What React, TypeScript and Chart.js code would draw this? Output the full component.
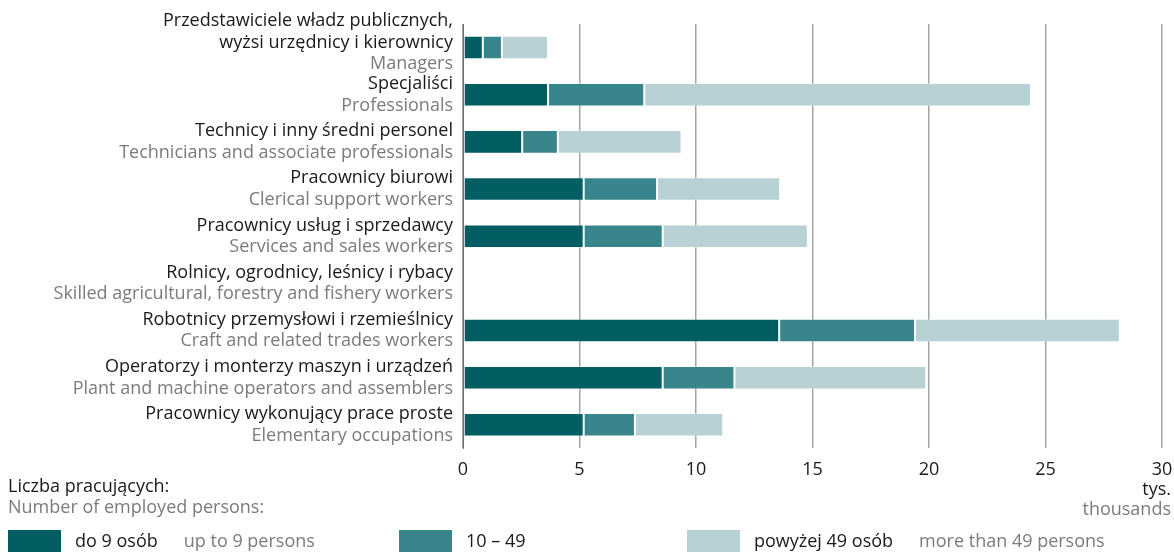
import React, { useEffect, useRef } from "react";
import { Chart, registerables } from "chart.js";

Chart.register(...registerables);

const polishLabels: string[][] = [
  ["Przedstawiciele władz publicznych,", "wyżsi urzędnicy i kierownicy"],
  ["Specjaliści"],
  ["Technicy i inny średni personel"],
  ["Pracownicy biurowi"],
  ["Pracownicy usług i sprzedawcy"],
  ["Rolnicy, ogrodnicy, leśnicy i rybacy"],
  ["Robotnicy przemysłowi i rzemieślnicy"],
  ["Operatorzy i monterzy maszyn i urządzeń"],
  ["Pracownicy wykonujący prace proste"],
];

const englishLabels: string[] = [
  "Managers",
  "Professionals",
  "Technicians and associate professionals",
  "Clerical support workers",
  "Services and sales workers",
  "Skilled agricultural, forestry and fishery workers",
  "Craft and related trades workers",
  "Plant and machine operators and assemblers",
  "Elementary occupations",
];

const upTo9: number[] = [0.85, 3.65, 2.54, 5.18, 5.18, 0, 13.57, 8.57, 5.18];
const from10to49: number[] = [0.82, 4.13, 1.53, 3.15, 3.39, 0, 5.83, 3.08, 2.2];
const over49: number[] = [1.98, 16.6, 5.31, 5.28, 6.23, 0, 8.79, 8.23, 3.79];

const seriesPl: string[] = ["do 9 osób", "10 – 49", "powyżej 49 osób"];
const seriesEn: string[] = ["up to 9 persons", "", "more than 49 persons"];
const seriesColors: string[] = ["#025e63", "#38868b", "#b7d1d5"];

const legendTitlePl = "Liczba pracujących:";
const legendTitleEn = "Number of employed persons:";
const unitPl = "tys.";
const unitEn = "thousands";

const FONT = '"Open Sans", sans-serif';
const FS = 18;
const DARK = "#1a1a1a";
const GREY = "#7b7b7b";

const textPlugin = {
  id: "customText",
  afterDraw(chart: any) {
    const ctx = chart.ctx as CanvasRenderingContext2D;
    const yScale = chart.scales.y;
    const area = chart.chartArea;
    ctx.save();
    ctx.font = `${FS}px ${FONT}`;
    ctx.textBaseline = "middle";
    ctx.textAlign = "right";
    const lh = 21.5;
    const xRight = area.left - 10;
    polishLabels.forEach((pl, i) => {
      const lines = [...pl, englishLabels[i]];
      const cy = yScale.getPixelForValue(i);
      const shift = lines.length > 2 ? -5 : 0;
      const startY = cy - ((lines.length - 1) * lh) / 2 + shift;
      lines.forEach((ln, j) => {
        ctx.fillStyle = j < pl.length ? DARK : GREY;
        ctx.fillText(ln, xRight, startY + j * lh);
      });
    });
    ctx.textAlign = "right";
    ctx.fillStyle = DARK;
    ctx.fillText(unitPl, 1171, 490);
    ctx.fillStyle = GREY;
    ctx.fillText(unitEn, 1171, 510);
    ctx.textAlign = "left";
    ctx.fillStyle = DARK;
    ctx.fillText(legendTitlePl, 8, 487);
    ctx.fillStyle = GREY;
    ctx.fillText(legendTitleEn, 8, 508);
    const itemX = [8, 399, 687];
    seriesPl.forEach((name, k) => {
      const x = itemX[k];
      ctx.fillStyle = seriesColors[k];
      ctx.fillRect(x, 530, 53, 26);
      ctx.fillStyle = DARK;
      ctx.fillText(name, x + 67, 542);
      const w = ctx.measureText(name).width;
      if (seriesEn[k]) {
        ctx.fillStyle = GREY;
        ctx.fillText(seriesEn[k], x + 67 + w + 26, 542);
      }
    });
    ctx.restore();
  },
};

export default function App() {
  const ref = useRef<HTMLCanvasElement | null>(null);
  useEffect(() => {
    document.body.style.margin = "0";
    const canvas = ref.current;
    if (!canvas) return;
    const labels = englishLabels.map((_, i) => String(i));
    const chart = new Chart(canvas, {
      type: "bar",
      data: {
        labels,
        datasets: [upTo9, from10to49, over49].map((d, k) => ({
          label: seriesPl[k],
          data: d,
          backgroundColor: seriesColors[k],
          borderColor: "rgba(255,255,255,0.35)",
          borderWidth: 1,
          borderSkipped: false,
          barPercentage: 0.5,
          categoryPercentage: 1,
        })),
      },
      options: {
        indexAxis: "y",
        responsive: false,
        animation: false,
        layout: { autoPadding: false, padding: { left: 463, right: 12, top: 24, bottom: 60 } },
        plugins: {
          legend: { display: false },
          tooltip: { enabled: false },
        },
        scales: {
          x: {
            stacked: true,
            min: 0,
            max: 30,
            afterFit: (scale: any) => {
              scale.paddingRight = 0;
              scale.paddingLeft = 0;
            },
            ticks: {
              stepSize: 5,
              color: DARK,
              font: { family: FONT, size: FS },
              padding: 11,
            },
            grid: { color: "#a3a3a3", lineWidth: 1.5, drawTicks: false },
            border: { display: false },
          },
          y: {
            stacked: true,
            afterFit: (scale: any) => {
              scale.paddingTop = 0;
              scale.paddingBottom = 0;
            },
            ticks: { display: false },
            grid: { display: false, drawTicks: false },
            border: { display: true, color: "#6e6e6e", width: 1 },
          },
        },
      },
      plugins: [textPlugin],
    });
    return () => chart.destroy();
  }, []);
  return (
    <div style={{ width: 1174, height: 552 }}>
      <canvas ref={ref} width={1174} height={552} />
    </div>
  );
}
